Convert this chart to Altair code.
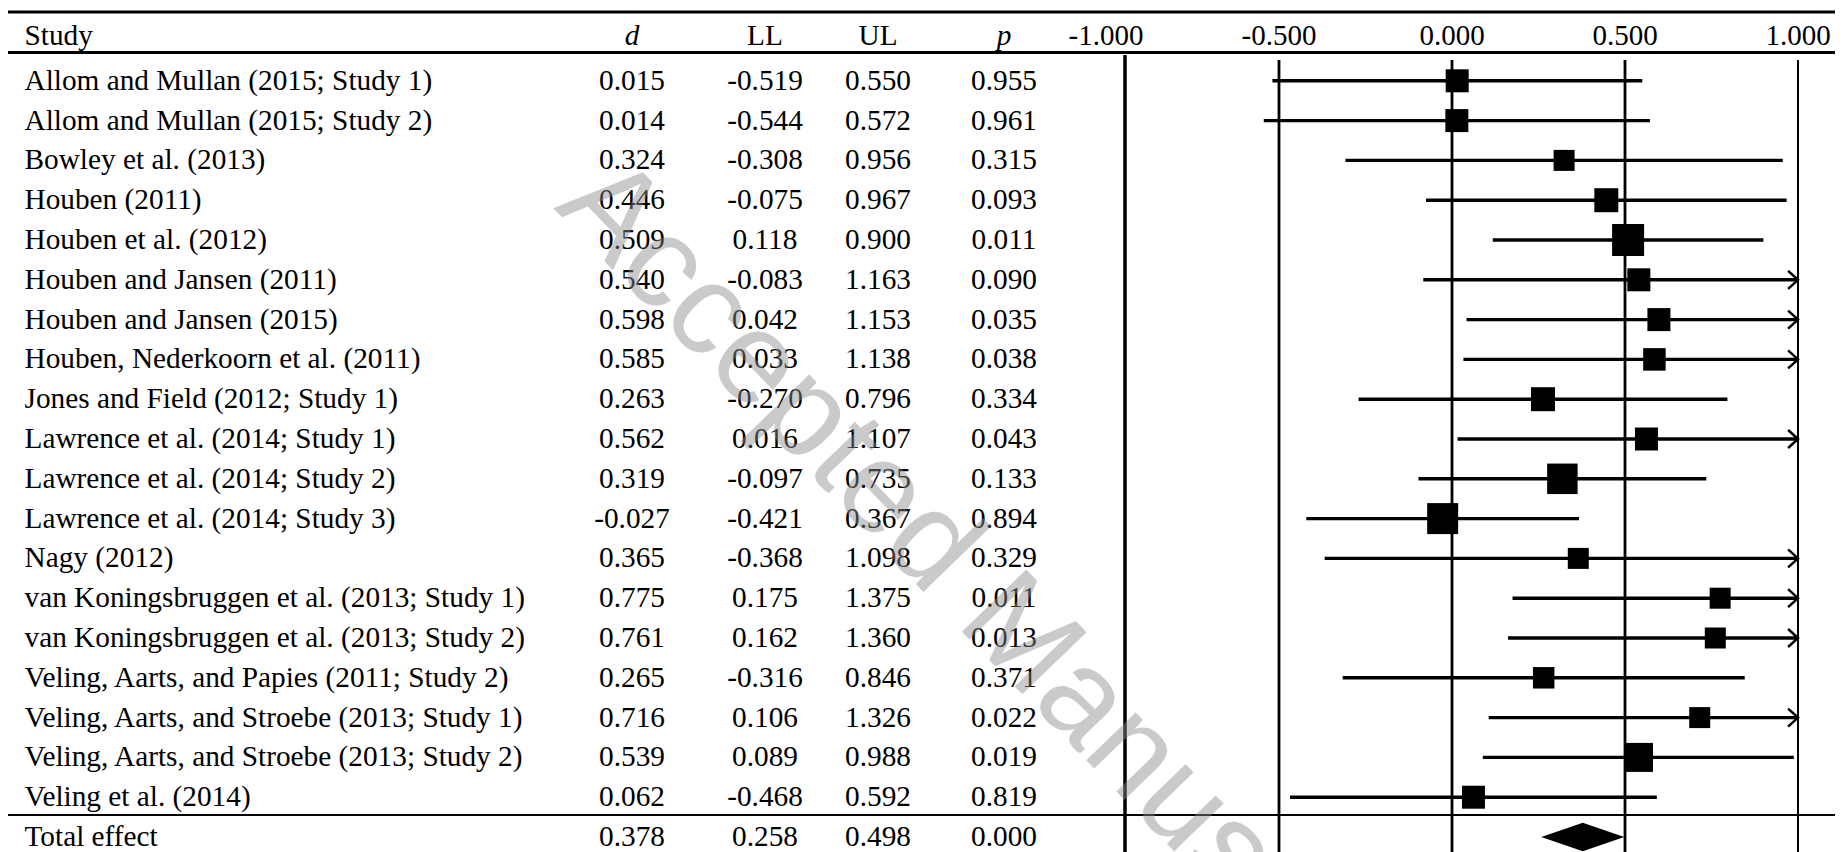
import altair as alt
import pandas as pd

# ---------------- data ----------------
studies = [
    "Allom and Mullan (2015; Study 1)",
    "Allom and Mullan (2015; Study 2)",
    "Bowley et al. (2013)",
    "Houben (2011)",
    "Houben et al. (2012)",
    "Houben and Jansen (2011)",
    "Houben and Jansen (2015)",
    "Houben, Nederkoorn et al. (2011)",
    "Jones and Field (2012; Study 1)",
    "Lawrence et al. (2014; Study 1)",
    "Lawrence et al. (2014; Study 2)",
    "Lawrence et al. (2014; Study 3)",
    "Nagy (2012)",
    "van Koningsbruggen et al. (2013; Study 1)",
    "van Koningsbruggen et al. (2013; Study 2)",
    "Veling, Aarts, and Papies (2011; Study 2)",
    "Veling, Aarts, and Stroebe (2013; Study 1)",
    "Veling, Aarts, and Stroebe (2013; Study 2)",
    "Veling et al. (2014)",
]
d_vals = [0.015, 0.014, 0.324, 0.446, 0.509, 0.540, 0.598, 0.585, 0.263, 0.562,
          0.319, -0.027, 0.365, 0.775, 0.761, 0.265, 0.716, 0.539, 0.062]
ll_vals = [-0.519, -0.544, -0.308, -0.075, 0.118, -0.083, 0.042, 0.033, -0.270, 0.016,
           -0.097, -0.421, -0.368, 0.175, 0.162, -0.316, 0.106, 0.089, -0.468]
ul_vals = [0.550, 0.572, 0.956, 0.967, 0.900, 1.163, 1.153, 1.138, 0.796, 1.107,
           0.735, 0.367, 1.098, 1.375, 1.360, 0.846, 1.326, 0.988, 0.592]
p_vals = [0.955, 0.961, 0.315, 0.093, 0.011, 0.090, 0.035, 0.038, 0.334, 0.043,
          0.133, 0.894, 0.329, 0.011, 0.013, 0.371, 0.022, 0.019, 0.819]
# relative study weights (read from the square areas)
weights = [4.70, 4.70, 3.92, 5.12, 9.10, 4.70, 4.70, 4.50, 5.12, 4.70,
           8.26, 8.54, 3.92, 3.92, 3.92, 4.10, 3.92, 7.47, 4.70]

total_label = "Total effect"
total_d, total_ll, total_ul, total_p = 0.378, 0.258, 0.498, 0.000

tick_values = [-1.0, -0.5, 0.0, 0.5, 1.0]
tick_labels = ["-1.000", "-0.500", "0.000", "0.500", "1.000"]
grid_values = [-0.5, 0.0, 0.5]
edge_values = [1.0]
header_cols = ["Study", "d", "LL", "UL", "p"]
watermark = ["Accepted Manuscript"]

# ---------------- layout (pixels, chart coordinates) ----------------
W, H = 1827, 844
ZERO_PX, PX_PER_UNIT = 1444, 346
ROW1_PX, ROW_STEP = 72.8, 39.8
COL_STUDY, COL_D, COL_LL, COL_UL, COL_P = 16.5, 624, 757, 870, 996
FONT = "Liberation Serif"
FS = 29.3
TEXT_DY = 9
HEADER_Y = 36.5

x_scale = alt.Scale(domain=[-ZERO_PX / PX_PER_UNIT, (W - ZERO_PX) / PX_PER_UNIT],
                    nice=False, zero=False)
y_scale = alt.Scale(domain=[1 - ROW1_PX / ROW_STEP, 1 + (H - ROW1_PX) / ROW_STEP],
                    reverse=True, nice=False, zero=False)


def fmt(v):
    return f"{v:.3f}"


n = len(studies)
table = pd.DataFrame({
    "study": studies + [total_label],
    "d": d_vals + [total_d],
    "LL": ll_vals + [total_ll],
    "UL": ul_vals + [total_ul],
    "p": p_vals + [total_p],
    "row": list(range(1, n + 2)),
})
for c in ["d", "LL", "UL", "p"]:
    table[c + "_txt"] = table[c].map(fmt)

forest = pd.DataFrame({
    "d": d_vals, "LL": ll_vals, "UL": ul_vals, "weight": weights,
    "row": list(range(1, n + 1)),
})
forest["lo"] = forest["LL"].clip(-1, 1)
forest["hi"] = forest["UL"].clip(-1, 1)

DIAMOND_HALF = 0.36
total_row = n + 1
diamond = pd.DataFrame({
    "x": [total_ll, total_d, total_ul],
    "y1": [total_row, total_row - DIAMOND_HALF, total_row],
    "y2": [total_row, total_row + DIAMOND_HALF, total_row],
})

ticks = pd.DataFrame({"v": tick_values, "label": tick_labels})
grid = pd.DataFrame({"v": grid_values})
edge = pd.DataFrame({"v": edge_values})
one = pd.DataFrame({"k": [0]})

X = lambda f: alt.X(f, scale=x_scale, axis=None)
Y = lambda f: alt.Y(f, scale=y_scale, axis=None)

# ---------------- layers ----------------
hrules = [
    alt.Chart(one).mark_rule(color="black", strokeWidth=sw).encode(
        x=alt.value(0), x2=alt.value(W), y=alt.value(yv))
    for yv, sw in [(4, 3), (44.5, 3), (807, 2)]
]

frame = alt.Chart(one).mark_rule(color="black", strokeWidth=3.5).encode(
    x=alt.value(1117), y=alt.value(47), y2=alt.value(H))

grid_layer = alt.Chart(grid).mark_rule(color="black", strokeWidth=2.8).encode(
    x=X("v:Q"), y=alt.value(52), y2=alt.value(H))
edge_layer = alt.Chart(edge).mark_rule(color="black", strokeWidth=2).encode(
    x=X("v:Q"), y=alt.value(52), y2=alt.value(H))

ci = alt.Chart(forest).mark_rule(color="black", strokeWidth=3.4).encode(
    x=X("lo:Q"), x2="hi:Q", y=Y("row:Q"))

squares = alt.Chart(forest).mark_square(color="black", filled=True, opacity=1).encode(
    x=X("d:Q"), y=Y("row:Q"),
    size=alt.Size("weight:Q", scale=alt.Scale(domain=[0, 10], range=[0, 1125]), legend=None))

arrows = alt.Chart(forest).transform_filter("datum.UL > 1").mark_point(
    shape="M-1.1,-1L0,0L-1.1,1", filled=False, color="black", strokeWidth=2.5,
    size=324, opacity=1).encode(x=X("hi:Q"), y=Y("row:Q"))

diamond_layer = alt.Chart(diamond).mark_area(color="black", opacity=1).encode(
    x=X("x:Q"), y=Y("y1:Q"), y2="y2:Q")

tick_layer = alt.Chart(ticks).mark_text(
    font=FONT, fontSize=29, align="center", baseline="alphabetic", color="black").encode(
    x=X("v:Q"), y=alt.value(HEADER_Y), text="label:N")

headers = []
for label, xpx, align, style in [
    (header_cols[0], COL_STUDY, "left", "normal"),
    (header_cols[1], COL_D, "center", "italic"),
    (header_cols[2], COL_LL, "center", "normal"),
    (header_cols[3], COL_UL, "center", "normal"),
    (header_cols[4], COL_P, "center", "italic"),
]:
    headers.append(
        alt.Chart(pd.DataFrame({"t": [label]})).mark_text(
            font=FONT, fontSize=FS, align=align, baseline="alphabetic",
            fontStyle=style, color="black").encode(
            x=alt.value(xpx), y=alt.value(HEADER_Y), text="t:N"))

cols = []
for field, xpx, align in [
    ("study", COL_STUDY, "left"),
    ("d_txt", COL_D, "center"),
    ("LL_txt", COL_LL, "center"),
    ("UL_txt", COL_UL, "center"),
    ("p_txt", COL_P, "center"),
]:
    cols.append(
        alt.Chart(table).mark_text(
            font=FONT, fontSize=FS, align=align, baseline="alphabetic", dy=TEXT_DY,
            color="black").encode(
            x=alt.value(xpx), y=Y("row:Q"), text=f"{field}:N"))

wm = alt.Chart(pd.DataFrame({"t": watermark})).mark_text(
    font="Liberation Sans", fontSize=130, align="left", baseline="alphabetic",
    angle=46, color="#8c8c8c", opacity=0.45).encode(
    x=alt.value(545), y=alt.value(200), text="t:N")

chart = alt.layer(
    *hrules, frame, grid_layer, edge_layer, ci, squares, arrows, diamond_layer,
    tick_layer, *headers, *cols, wm
).properties(
    width=W, height=H, padding=0,
    autosize=alt.AutoSizeParams(type="none"),
    background="white",
).configure_view(stroke=None)

chart.save("out.html", embed_options={"renderer": "svg", "actions": False})
